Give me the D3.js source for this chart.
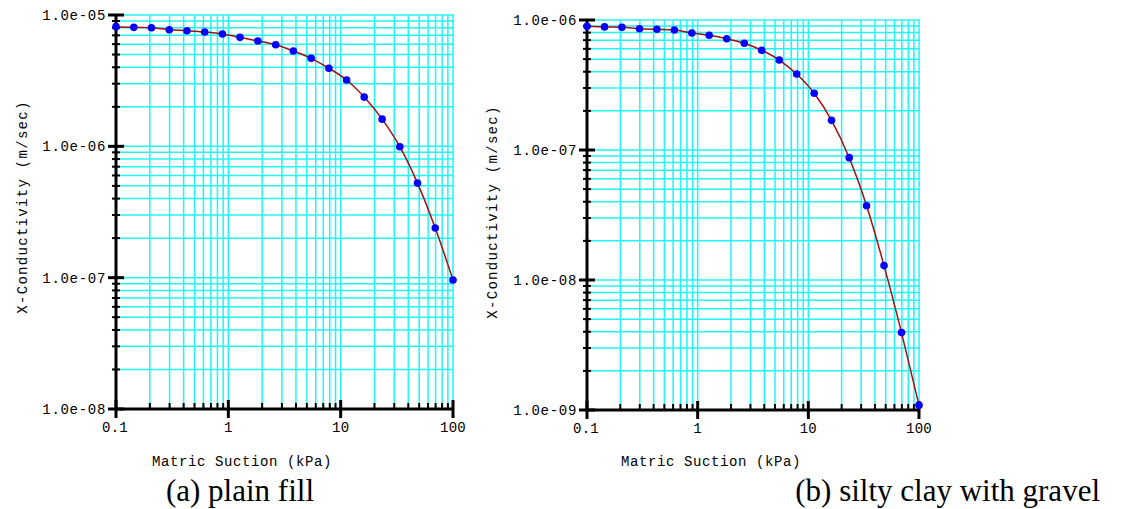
<!DOCTYPE html>
<html><head><meta charset="utf-8">
<script src="https://cdn.jsdelivr.net/npm/d3@7"></script>
<style>body{margin:0;background:#fff;} svg{display:block}</style>
</head><body><svg id="c" width="1123" height="509"></svg>
<script>
// ---- data ----
const suction = [0.1, 0.144, 0.207, 0.298, 0.428, 0.616, 0.886, 1.27, 1.83, 2.64, 3.79, 5.46, 7.85, 11.3, 16.2, 23.4, 33.6, 48.3, 69.5, 100];
const kPlainFill = [8.15e-6, 8.05e-6, 8.0e-6, 7.73e-6, 7.59e-6, 7.42e-6, 7.17e-6, 6.76e-6, 6.34e-6, 5.94e-6, 5.32e-6, 4.68e-6, 3.93e-6, 3.2e-6, 2.37e-6, 1.61e-6, 9.93e-7, 5.25e-7, 2.39e-7, 9.6e-8];
const kSiltyClay = [8.95e-7, 8.85e-7, 8.8e-7, 8.57e-7, 8.48e-7, 8.38e-7, 7.94e-7, 7.63e-7, 7.18e-7, 6.62e-7, 5.85e-7, 4.92e-7, 3.84e-7, 2.73e-7, 1.69e-7, 8.73e-8, 3.73e-8, 1.29e-8, 3.94e-9, 1.09e-9];
const xTickValues = [0.1, 1, 10, 100];
const xTickLabels = ["0.1", "1", "10", "100"];
const yTicksA = [1e-8, 1e-7, 1e-6, 1e-5];
const yTickLabelsA = ["1.0e-08", "1.0e-07", "1.0e-06", "1.0e-05"];
const yTicksB = [1e-9, 1e-8, 1e-7, 1e-6];
const yTickLabelsB = ["1.0e-09", "1.0e-08", "1.0e-07", "1.0e-06"];
const captions = ["(a) plain fill", "(b) silty clay with gravel"];
const xTitle = "Matric Suction (kPa)";
const yTitle = "X-Conductivity (m/sec)";

const svg = d3.select("#c");
const monoFont = "'Liberation Mono', 'DejaVu Sans Mono', monospace";

function minorTicks(lo, hi) {
  const out = [];
  for (let d = lo; d < hi * 0.999; d *= 10) {
    for (let m = 2; m <= 9; m++) out.push(+(d * m).toPrecision(3));
  }
  return out;
}

function panel(o) {
  const x = d3.scaleLog().domain([0.1, 100]).range([o.x0, o.x1]);
  const y = d3.scaleLog().domain([o.yTicks[0], o.yTicks[o.yTicks.length - 1]]).range([o.y1, o.y0]);
  const g = svg.append("g");
  const xMin = minorTicks(0.1, 100);
  const yMin = minorTicks(o.yTicks[0], o.yTicks[o.yTicks.length - 1]);
  const xGrid = xMin.concat(xTickValues.slice(1));
  const yGrid = yMin.concat(o.yTicks.slice(1));

  // grid
  g.selectAll(".vg").data(xGrid).join("line")
    .attr("x1", d => x(d)).attr("x2", d => x(d))
    .attr("y1", o.y0).attr("y2", o.y1)
    .attr("stroke", "#22f5f5").attr("stroke-width", 1.5);
  g.selectAll(".hg").data(yGrid).join("line")
    .attr("x1", o.x0).attr("x2", o.x1 + 1)
    .attr("y1", d => y(d)).attr("y2", d => y(d))
    .attr("stroke", "#22f5f5").attr("stroke-width", 1.5);

  // axes lines
  g.append("line").attr("x1", o.x0).attr("x2", o.x0).attr("y1", o.y0 - 1).attr("y2", o.y1 + 1)
    .attr("stroke", "#000").attr("stroke-width", 3);
  g.append("line").attr("x1", o.x0 - 1).attr("x2", o.x1 + 1).attr("y1", o.y1).attr("y2", o.y1)
    .attr("stroke", "#000").attr("stroke-width", 3);

  // y ticks
  g.selectAll(".ymaj").data(o.yTicks).join("line")
    .attr("x1", o.x0 - 8).attr("x2", o.x0 + 8)
    .attr("y1", d => y(d)).attr("y2", d => y(d))
    .attr("stroke", "#000").attr("stroke-width", 3);
  g.selectAll(".ymin").data(yMin).join("line")
    .attr("x1", o.x0 - 4).attr("x2", o.x0 + 4)
    .attr("y1", d => y(d)).attr("y2", d => y(d))
    .attr("stroke", "#000").attr("stroke-width", 2);
  // x ticks
  g.selectAll(".xmaj").data(xTickValues).join("line")
    .attr("x1", d => x(d)).attr("x2", d => x(d))
    .attr("y1", o.y1 - 9).attr("y2", o.y1 + 9)
    .attr("stroke", "#000").attr("stroke-width", 3);
  g.selectAll(".xmin").data(xMin).join("line")
    .attr("x1", d => x(d)).attr("x2", d => x(d))
    .attr("y1", o.y1 - 6).attr("y2", o.y1)
    .attr("stroke", "#000").attr("stroke-width", 2);

  // tick labels
  g.selectAll(".yl").data(o.yTicks).join("text")
    .attr("x", o.x0 - 10).attr("y", d => y(d)).attr("dy", "0.36em")
    .attr("text-anchor", "end")
    .style("font-family", monoFont).style("font-size", "14px").style("letter-spacing", "0.7px")
    .text((d, i) => o.yLabels[i]);
  g.selectAll(".xl").data(xTickValues).join("text")
    .attr("x", d => x(d) + (d === 0.1 ? -1 : 0)).attr("y", o.y1 + 18).attr("dy", "0.36em")
    .attr("text-anchor", "middle")
    .style("font-family", monoFont).style("font-size", "14px").style("letter-spacing", "0.3px")
    .text((d, i) => xTickLabels[i]);

  // titles
  g.append("text").attr("x", o.xTitleX).attr("y", 461).attr("dy", "0.36em")
    .attr("text-anchor", "middle")
    .style("font-family", monoFont).style("font-size", "14px").style("letter-spacing", "0.6px")
    .text(xTitle);
  g.append("text").attr("transform", `translate(${o.yTitleX},${o.yTitleY}) rotate(-90)`)
    .attr("dy", "0.36em").attr("text-anchor", "middle")
    .style("font-family", monoFont).style("font-size", "14px").style("letter-spacing", "1.3px")
    .text(yTitle);

  // curve & points
  const pts = suction.map((s, i) => [s, o.k[i]]);
  g.append("path").datum(pts)
    .attr("d", d3.line().x(d => x(d[0])).y(d => y(d[1])).curve(d3.curveMonotoneX))
    .attr("fill", "none").attr("stroke", "#a01010").attr("stroke-width", 1.5);
  g.selectAll(".pt").data(pts).join("circle")
    .attr("cx", d => x(d[0])).attr("cy", d => y(d[1])).attr("r", 3.8)
    .attr("fill", "#0000ff");

  // caption
  svg.append("text").attr("x", o.capX).attr("y", 501)
    .attr("text-anchor", o.capAnchor)
    .style("font-family", "'Liberation Serif', 'Times New Roman', serif").style("font-size", "31px")
    .text(o.caption);
}

panel({x0: 116, x1: 453, y0: 15, y1: 409, yTicks: yTicksA, yLabels: yTickLabelsA, k: kPlainFill,
  xTitleX: 242, yTitleX: 22, yTitleY: 207, caption: captions[0], capX: 240, capAnchor: "middle"});
panel({x0: 587, x1: 919, y0: 20, y1: 410, yTicks: yTicksB, yLabels: yTickLabelsB, k: kSiltyClay,
  xTitleX: 711, yTitleX: 492, yTitleY: 212, caption: captions[1], capX: 1100, capAnchor: "end"});
</script></body></html>
